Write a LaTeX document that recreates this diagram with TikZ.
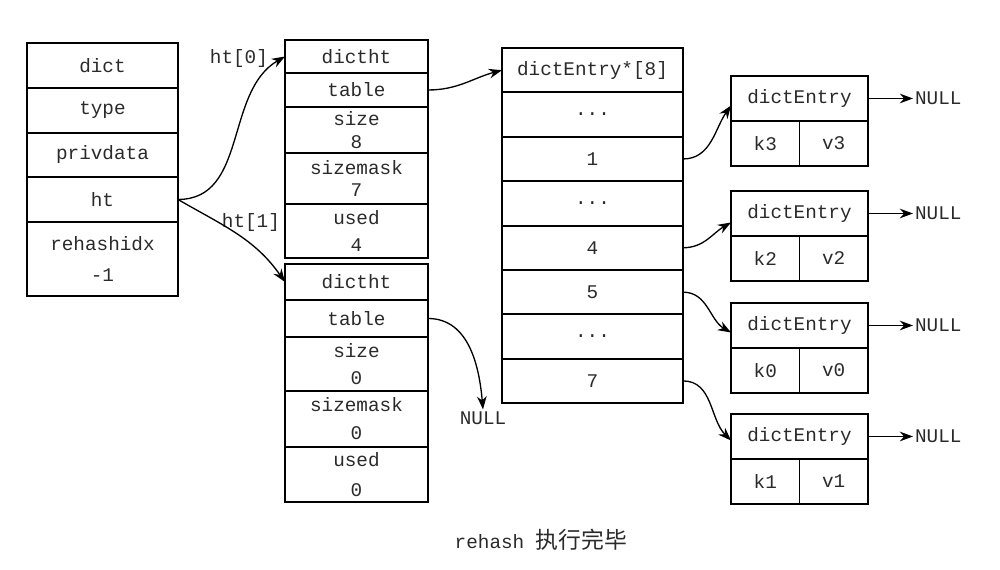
\documentclass[tikz,border=0pt]{standalone}
\usepackage{fontspec}
\newfontfamily\mono{Liberation Mono}
\newfontfamily\cjk{Noto Sans CJK SC}
\usetikzlibrary{arrows.meta,positioning}
\definecolor{colorInk}{HTML}{2A2A2A}
\def\colorInk{colorInk}

\begin{document}
\begin{tikzpicture}[x=0.02cm,y=-0.02cm,
  cell/.style={draw, line width=1.1pt, inner sep=0pt, outer sep=0pt,
    minimum width=#1, align=center,
    font=\mono\fontsize{11}{13}\selectfont},
  fleche/.style={-{Stealth[length=7.5pt,width=5.5pt]}, line width=0.75pt},
  etiq/.style={inner sep=1pt, font=\mono\fontsize{11}{13}\selectfont},
  every node/.append style={text=\colorInk}]

\useasboundingbox (0,0) rectangle (1000,570);

% La structure dict
\node[cell=3.02cm, minimum height=0.9cm, anchor=north west] (dict) at (27,43) {dict};
\node[cell=3.02cm, minimum height=0.9cm, below=0pt of dict] (type) {type};
\node[cell=3.02cm, minimum height=0.88cm, below=0pt of type] (priv) {privdata};
\node[cell=3.02cm, minimum height=0.9cm, below=0pt of priv] (ht) {ht};
\node[cell=3.02cm, minimum height=1.48cm, below=0pt of ht] (rehash) {rehashidx\\[5pt]-1};

% La table ht[0]
\node[cell=2.86cm, minimum height=0.66cm, anchor=north west] (d0h) at (285,40) {dictht};
\node[cell=2.86cm, minimum height=0.68cm, below=0pt of d0h] (d0tab) {table};
\node[cell=2.86cm, minimum height=0.92cm, below=0pt of d0tab] (d0size) {size\\8};
\node[cell=2.86cm, minimum height=1.02cm, below=0pt of d0size] (d0mask) {sizemask\\7};
\node[cell=2.86cm, minimum height=1.08cm, below=0pt of d0mask] (d0used) {used\\[2pt]4};

% La table ht[1]
\node[cell=2.86cm, minimum height=0.72cm, anchor=north west] (d1h) at (285,264) {dictht};
\node[cell=2.86cm, minimum height=0.74cm, below=0pt of d1h] (d1tab) {table};
\node[cell=2.86cm, minimum height=1.08cm, below=0pt of d1tab] (d1size) {size\\[2pt]0};
\node[cell=2.86cm, minimum height=1.12cm, below=0pt of d1size] (d1mask) {sizemask\\[3pt]0};
\node[cell=2.86cm, minimum height=1.1cm, below=0pt of d1mask] (d1used) {used\\[4pt]0};

% Les etiquettes ht[0] et ht[1]
\node[etiq, anchor=east] (lab0) at (270,59) {ht[0]};
\node[etiq, anchor=east] (lab1) at (282,223) {ht[1]};
\node[etiq] (nul) at (483,418) {NULL};

% Le tableau dictEntry*[8]
\node[cell=3.62cm, minimum height=0.888cm, anchor=north west] (t0) at (502,48) {dictEntry*[8]};
\node[cell=3.62cm, minimum height=0.888cm, below=0pt of t0] (t1) {...};
\node[cell=3.62cm, minimum height=0.888cm, below=0pt of t1] (t2) {1};
\node[cell=3.62cm, minimum height=0.888cm, below=0pt of t2] (t3) {...};
\node[cell=3.62cm, minimum height=0.888cm, below=0pt of t3] (t4) {4};
\node[cell=3.62cm, minimum height=0.888cm, below=0pt of t4] (t5) {5};
\node[cell=3.62cm, minimum height=0.888cm, below=0pt of t5] (t6) {...};
\node[cell=3.62cm, minimum height=0.888cm, below=0pt of t6] (t7) {7};

% Les entrees
\foreach \i/\y in {3/76, 2/191, 0/303, 1/414}{
  \node[cell=2.74cm, minimum height=0.9cm, anchor=north west] (e\i) at (731,\y) {dictEntry};
  \node[cell=1.37cm, minimum height=0.9cm, anchor=north west] (e\i k) at (e\i.south west) {k\i};
  \node[cell=1.37cm, minimum height=0.9cm, anchor=north east] (e\i v) at (e\i.south east) {v\i};
  \node[etiq, right=0.9cm of e\i] (n\i) {NULL};
  \draw[fleche] (e\i) -- (n\i);
}

% Les pointeurs
\draw[fleche] (ht.east) to[out=0, in=210] (d0h.west);
\draw[fleche] (ht.east) to[out=-30, in=125] (d1h.west);
\draw[fleche] (d0tab.east) to[out=0, in=195] (t0.west);
\draw[fleche] (d1tab.east) to[out=0, in=95] (nul.north);
\draw[fleche] (t2.east) to[out=0, in=235] ([yshift=-0.14cm]e3.west);
\draw[fleche] (t4.east) to[out=0, in=210] ([yshift=-0.18cm]e2.west);
\draw[fleche] (t5.east) to[out=0, in=150] ([yshift=-0.14cm]e0.west);
\draw[fleche] (t7.east) to[out=0, in=135] ([yshift=-0.08cm]e1.west);

% La legende
\node (cap) at (541,540) {\mono\fontsize{11}{13}\selectfont rehash \cjk\fontsize{13}{15}\selectfont 执行完毕};

\end{tikzpicture}
\end{document}
